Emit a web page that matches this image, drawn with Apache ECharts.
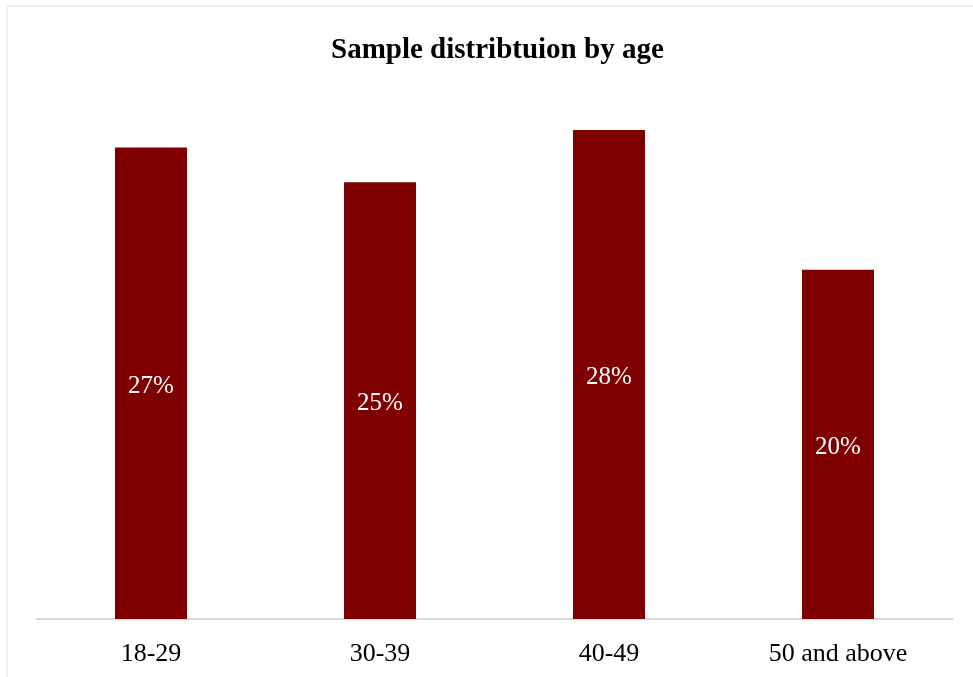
<!DOCTYPE html>
<html>
<head>
<meta charset="utf-8">
<script src="https://cdn.jsdelivr.net/npm/echarts@6/dist/echarts.min.js"></script>
<style>
  html, body { margin: 0; padding: 0; background: #fff; }
  #chart { width: 973px; height: 677px; }
</style>
</head>
<body>
<div id="chart"></div>
<script>
// Age groups and their share of the sample (%)
const categories = ['18-29', '30-39', '40-49', '50 and above'];
const shares = [27, 25, 28, 20];

const chart = echarts.init(document.getElementById('chart'));
const serif = '"Liberation Serif", "Times New Roman", serif';

chart.setOption({
  animation: false,
  backgroundColor: '#ffffff',
  title: {
    text: 'Sample distribtuion by age',
    left: 326,
    top: 31,
    textStyle: { fontFamily: serif, fontWeight: 'bold', fontSize: 29, color: '#000' }
  },
  graphic: [{
    type: 'rect',
    shape: { x: 7, y: 6, width: 1000, height: 1000 },
    style: { fill: 'none', stroke: '#eeeeee', lineWidth: 2 },
    silent: true
  }],
  grid: { left: 36.5, right: 20.5, top: 95, bottom: 58, containLabel: false },
  xAxis: {
    type: 'category',
    data: categories,
    axisLine: { lineStyle: { color: '#d9d9d9', width: 2 } },
    axisTick: { show: false },
    axisLabel: { fontFamily: serif, fontSize: 26, color: '#000', margin: 22 }
  },
  yAxis: {
    type: 'value',
    min: 0,
    max: 30,
    show: false,
    splitLine: { show: false }
  },
  series: [{
    type: 'bar',
    data: shares,
    barWidth: 72,
    itemStyle: { color: '#7f0000' },
    label: {
      show: true,
      position: 'inside',
      offset: [0, 3],
      formatter: '{c}%',
      fontFamily: serif,
      fontSize: 25,
      color: '#ffffff'
    }
  }]
});
</script>
</body>
</html>
